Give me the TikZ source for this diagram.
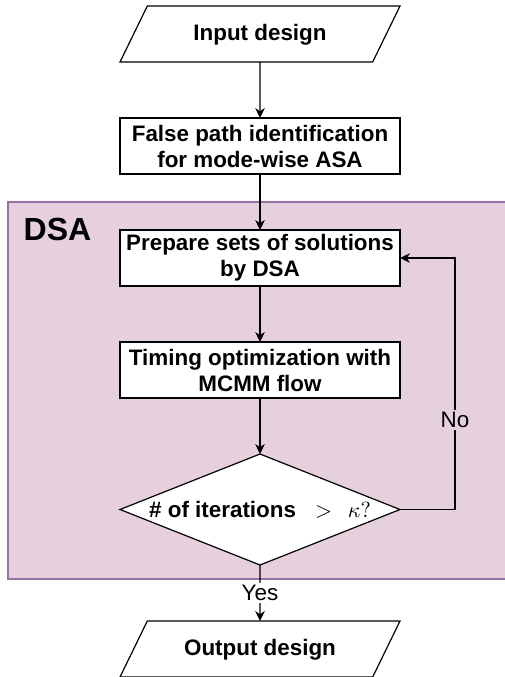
\documentclass[tikz,border=0pt]{standalone}
\usepackage{fontspec}
\setmainfont{Liberation Sans}
\usetikzlibrary{positioning,calc}
\usetikzlibrary{arrows.meta,shapes.geometric}
\definecolor{DsaFill}{RGB}{230,208,222}
\definecolor{DsaLine}{RGB}{150,115,166}
\tikzset{
	stepbox/.style={draw=black,fill=white,line width=0.6pt,minimum width=140pt,minimum height=28pt,
		inner sep=1pt,outer sep=0pt,align=center,font=\fontsize{11.2}{13}\selectfont\bfseries},
	io/.style={trapezium,trapezium left angle=64,trapezium right angle=116,trapezium stretches body=true,
		draw=black,fill=white,line width=0.6pt,minimum width=140pt,text height=8pt,text depth=2pt,
		inner xsep=1pt,inner ysep=9pt,outer sep=0pt,font=\fontsize{11.2}{13}\selectfont\bfseries},
	decision/.style={diamond,aspect=2.5,draw=black,fill=white,line width=0.6pt,
		minimum width=140pt,minimum height=55.5pt,inner sep=0pt,outer sep=0pt,
		font=\fontsize{11.2}{13}\selectfont\bfseries},
	flow/.style={draw=black,line width=0.6pt,-{Stealth[length=5pt,width=4.8pt]}},
	lbl/.style={fill=white,inner sep=1pt,font=\fontsize{11.2}{13}\selectfont},
	region/.style={draw=DsaLine,fill=DsaFill,line width=0.8pt},
}

\begin{document}
\begin{tikzpicture}[node distance=28pt]
	\useasboundingbox (0,0) rectangle (252.5pt,-338.5pt);
	% DSA region
	\draw[region] (4pt,-101pt) rectangle (262pt,-289.5pt);
	\node[font=\fontsize{16}{19}\selectfont\bfseries] (dsa) at (28.75pt,-114.5pt) {DSA};
	% flow
	\node[io] (in) at (130pt,-17pt) {Input design};
	\node[stepbox,below=of in] (fp) {False path identification\\for mode-wise ASA};
	\node[stepbox,below=of fp] (prep) {Prepare sets of solutions\\by DSA};
	\node[stepbox,below=of prep] (tim) {Timing optimization with\\MCMM flow};
	\node[decision,below=of tim] (dec) {\# of iterations\hspace{9.5pt}$>\;\,\kappa?$};
	\node[io,below=of dec] (out) {Output design};
	\coordinate (loop) at ($(dec.east)+(27.5pt,0)$);
	\draw[flow] (in) -- (fp);
	\draw[flow] (fp) -- (prep);
	\draw[flow] (prep) -- (tim);
	\draw[flow] (tim) -- (dec);
	\draw[flow] (dec) -- node[lbl] {Yes} (out);
	\draw[flow] (dec.east) -- (loop) -- node[lbl,fill=DsaFill,pos=0.355] {No} (loop |- prep.east) -- (prep.east);
\end{tikzpicture}
\end{document}
